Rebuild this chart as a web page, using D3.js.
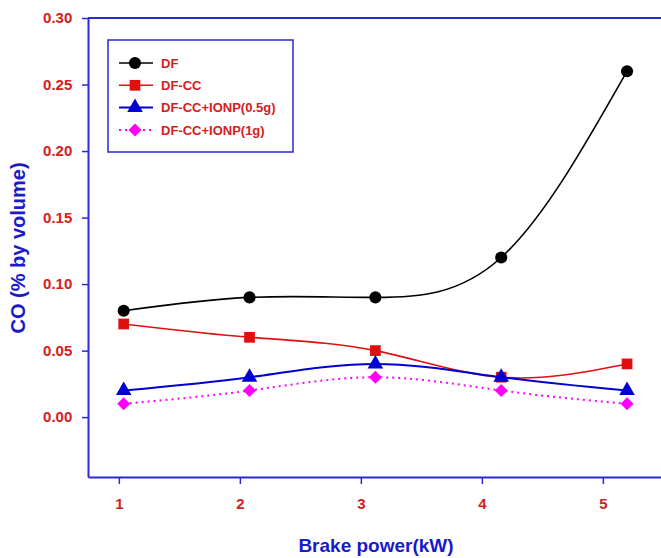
<!DOCTYPE html>
<meta charset="utf-8">
<head>
<style>
  body { margin: 0; background: #fff; }
  text { font-family: "Liberation Sans", Arial, sans-serif; font-weight: bold; }
</style>
</head>
<body>
<svg id="chart"></svg>
<script src="https://d3js.org/d3.v7.min.js"></script>
<script>

// data
var power = [1.04, 2.08, 3.12, 4.16, 5.2];
var df      = [0.08, 0.09, 0.09, 0.12, 0.26];
var dfcc    = [0.07, 0.06, 0.05, 0.03, 0.04];
var ionp05  = [0.02, 0.03, 0.04, 0.03, 0.02];
var ionp1   = [0.01, 0.02, 0.03, 0.02, 0.01];
var names   = ["DF", "DF-CC", "DF-CC+IONP(0.5g)", "DF-CC+IONP(1g)"];
var xTicks  = [1, 2, 3, 4, 5];
var yTicks  = [0, 0.05, 0.10, 0.15, 0.20, 0.25, 0.30];

var series = [
  {name: names[0], values: df,     color: "#000000", sym: d3.symbolCircle,   size: 115, rot: 0,  width: 1.6, dash: null},
  {name: names[1], values: dfcc,   color: "#e01010", sym: d3.symbolSquare,   size: 115, rot: 0,  width: 1.6, dash: null},
  {name: names[2], values: ionp05, color: "#0000d0", sym: d3.symbolTriangle, size: 105, rot: 0,  width: 2,   dash: null},
  {name: names[3], values: ionp1,  color: "#ff00ff", sym: d3.symbolSquare,   size: 85,  rot: 45, width: 2,   dash: "2,4"}
];

var W = 661, H = 558;
var margin = {top: 18, right: 0, bottom: 81, left: 88};

var svg = d3.select("#chart").attr("width", W).attr("height", H);

var x = d3.scaleLinear().domain([0.745, 5.5]).range([margin.left, margin.left + 121 * (5.5 - 0.745)]);
var y = d3.scaleLinear().domain([-0.045, 0.30]).range([H - margin.bottom, margin.top]);

var axisColor = "#2a2ad0", tickColor = "#d42020";

var xAxis = d3.axisBottom(x).tickValues(xTicks).tickFormat(d3.format("d")).tickSize(7).tickSizeOuter(0);
var yAxis = d3.axisLeft(y).tickValues(yTicks).tickFormat(d3.format(".2f")).tickSize(6).tickSizeOuter(0);

var gx = svg.append("g")
    .attr("transform", "translate(0," + (H - margin.bottom) + ")")
    .call(xAxis);
var gy = svg.append("g")
    .attr("transform", "translate(" + margin.left + ",0)")
    .call(yAxis);

[gx, gy].forEach(function(g) {
  g.select(".domain").attr("stroke", axisColor).attr("stroke-width", 2);
  g.selectAll(".tick line").attr("stroke", axisColor).attr("stroke-width", 1.5);
  g.selectAll(".tick text").attr("fill", tickColor).style("font-size", "15px")
    .style("font-family", "'Liberation Sans', Arial, sans-serif").style("font-weight", "bold");
});
gx.selectAll(".tick text").attr("dy", "1.45em");
gy.selectAll(".tick text").attr("dx", "-0.45em");

// top frame line
svg.append("line")
    .attr("x1", margin.left).attr("x2", W)
    .attr("y1", y(0.30)).attr("y2", y(0.30))
    .attr("stroke", axisColor).attr("stroke-width", 2);

// axis titles
svg.append("text")
    .attr("x", 376).attr("y", 552)
    .attr("text-anchor", "middle")
    .attr("fill", "#1a1ac8")
    .style("font-size", "19px")
    .text("Brake power(kW)");

svg.append("text")
    .attr("transform", "translate(25,248) rotate(-90)")
    .attr("text-anchor", "middle")
    .attr("fill", "#1a1ac8")
    .style("font-size", "20px")
    .text("CO (% by volume)");

var line = d3.line()
    .x(function(d, i) { return x(power[i]); })
    .y(function(d) { return y(d); })
    .curve(d3.curveNatural);

series.forEach(function(s) {
  svg.append("path")
      .datum(s.values)
      .attr("d", line)
      .attr("fill", "none")
      .attr("stroke", s.color)
      .attr("stroke-width", s.width)
      .attr("stroke-dasharray", s.dash);

  svg.selectAll(null)
      .data(s.values)
      .enter().append("path")
      .attr("d", d3.symbol().type(s.sym).size(s.size))
      .attr("transform", function(d, i) { return "translate(" + x(power[i]) + "," + y(d) + ") rotate(" + s.rot + ")"; })
      .attr("fill", s.color);
});

// legend
var lg = svg.append("g").attr("transform", "translate(108,40)");
lg.append("rect")
    .attr("width", 185).attr("height", 112)
    .attr("fill", "#fff")
    .attr("stroke", axisColor).attr("stroke-width", 1.5);

series.forEach(function(s, i) {
  var row = lg.append("g").attr("transform", "translate(0," + (23 + i * 22.3) + ")");
  row.append("line")
      .attr("x1", 11).attr("x2", 45)
      .attr("stroke", s.color).attr("stroke-width", s.width)
      .attr("stroke-dasharray", s.dash);
  row.append("path")
      .attr("d", d3.symbol().type(s.sym).size(s.size))
      .attr("transform", "translate(27,0) rotate(" + s.rot + ")")
      .attr("fill", s.color);
  row.append("text")
      .attr("x", 53).attr("dy", "0.36em")
      .attr("fill", tickColor)
      .style("font-size", "13px")
      .text(s.name);
});

</script>
</body>
